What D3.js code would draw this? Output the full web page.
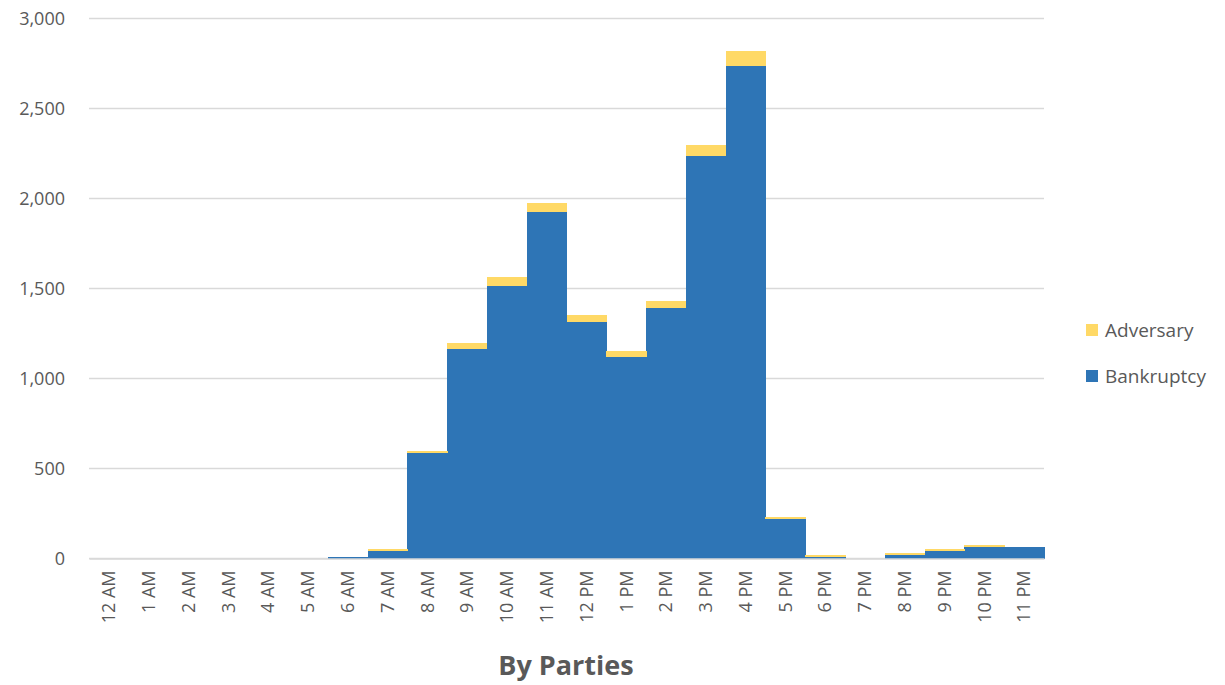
<!DOCTYPE html>
<html><head><meta charset="utf-8">
<script src="https://cdn.jsdelivr.net/npm/d3@7"></script>
<style>body{margin:0;background:#fff;} svg{display:block;}</style>
</head><body>
<svg id="chart" width="1225" height="685"></svg>
<script>
const hours = ["12 AM","1 AM","2 AM","3 AM","4 AM","5 AM","6 AM","7 AM","8 AM","9 AM","10 AM","11 AM","12 PM","1 PM","2 PM","3 PM","4 PM","5 PM","6 PM","7 PM","8 PM","9 PM","10 PM","11 PM"];
const bankruptcy = [0,0,0,0,0,0,10,42,584,1162,1516,1927,1316,1118,1393,2236,2738,219,10,0,19,42,64,64];
const adversary  = [0,0,0,0,0,0,0,11,13,35,46,46,37,35,38,61,81,13,11,0,12,12,13,0];
const yTicks = [0,500,1000,1500,2000,2500,3000];
const seriesNames = ["Bankruptcy","Adversary"];
const colors = {Bankruptcy:"#2E75B6", Adversary:"#FFD966"};
const title = "By Parties";

const svg = d3.select("#chart");
const m = {left:89, right:181, top:18.5, bottom:126.5};
const W = 1225, H = 685;
const x = d3.scaleBand().domain(hours).range([m.left, W - m.right]).padding(0);
const y = d3.scaleLinear().domain([0,3000]).range([H - m.bottom, m.top]);
const font = "'Open Sans', 'Noto Sans', sans-serif";
const txt = "#595959";

// gridlines
svg.append("g").selectAll("line").data(yTicks).join("line")
  .attr("x1", m.left).attr("x2", W - m.right)
  .attr("y1", d => y(d)).attr("y2", d => y(d))
  .attr("stroke", "#d9d9d9").attr("stroke-width", 1.5);

// y labels
const yAxis = d3.axisLeft(y).tickValues(yTicks).tickFormat(d3.format(",")).tickSize(0).tickPadding(24);
const ga = svg.append("g").attr("transform", `translate(${m.left},0)`).call(yAxis);
ga.select(".domain").remove();
ga.selectAll("text").attr("font-family", font).attr("font-size", 18).attr("fill", txt);

// stacked bars
const data = hours.map((h,i) => ({hour:h, Bankruptcy:bankruptcy[i], Adversary:adversary[i]}));
const stack = d3.stack().keys(seriesNames)(data);
svg.append("g").attr("shape-rendering", "crispEdges").selectAll("g").data(stack).join("g")
  .attr("fill", d => colors[d.key])
  .selectAll("rect").data(d => d).join("rect")
  .attr("x", d => x(d.data.hour))
  .attr("width", x.bandwidth() + 0.5)
  .attr("y", d => y(d[1]))
  .attr("height", d => Math.max(0, y(d[0]) - y(d[1])));

// x axis
const xAxis = d3.axisBottom(x).tickSize(0).tickPadding(0);
const gx = svg.append("g").attr("transform", `translate(0,${y(0)})`).call(xAxis);
gx.select(".domain").attr("stroke", "#d9d9d9").attr("stroke-width", 1.5);
gx.selectAll("text")
  .attr("font-family", font).attr("font-size", 18).attr("fill", txt)
  .attr("text-anchor", "end").attr("dy", "0.35em")
  .attr("transform", "translate(0,12) rotate(-90)")
  .attr("x", 0).attr("y", 0);

// title
svg.append("text").attr("x", 566).attr("y", 675)
  .attr("text-anchor", "middle").attr("font-family", font).attr("font-weight", "bold")
  .attr("font-size", 27).attr("fill", txt).text(title);

// legend
const legendItems = ["Adversary","Bankruptcy"];
const lg = svg.append("g").selectAll("g").data(legendItems).join("g")
  .attr("transform", (d,i) => `translate(1086,${324 + i*46})`);
lg.append("rect").attr("width", 12).attr("height", 12).attr("fill", d => colors[d]);
lg.append("text").attr("x", 19).attr("y", 6).attr("dy", "0.35em")
  .attr("font-family", font).attr("font-size", 19).attr("fill", txt).text(d => d);
</script>
</body></html>
